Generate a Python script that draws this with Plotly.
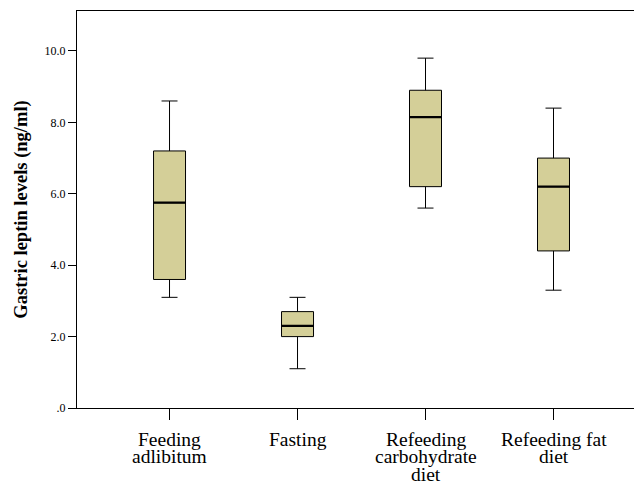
import plotly.graph_objects as go

# Gastric leptin levels (ng/ml) per feeding condition: five-number summaries
categories = ["Feeding<br>adlibitum", "Fasting", "Refeeding<br>carbohydrate<br>diet", "Refeeding fat<br>diet"]
lower_whisker = [3.1, 1.1, 5.6, 3.3]
q1 = [3.6, 2.0, 6.2, 4.4]
median = [5.75, 2.3, 8.15, 6.2]
q3 = [7.2, 2.7, 8.9, 7.0]
upper_whisker = [8.6, 3.1, 9.8, 8.4]

y_tick_values = [0, 2, 4, 6, 8, 10]
y_tick_labels = [".0", "2.0", "4.0", "6.0", "8.0", "10.0"]

positions = list(range(len(categories)))
box_width = 0.25
fill = "rgb(212,207,152)"
serif = "Liberation Serif, Times New Roman, serif"

fig = go.Figure()
fig.add_trace(go.Box(
    x=positions,
    q1=q1,
    median=median,
    q3=q3,
    lowerfence=lower_whisker,
    upperfence=upper_whisker,
    width=box_width,
    whiskerwidth=0.5,
    fillcolor=fill,
    line=dict(color="black", width=1),
    boxpoints=False,
    showlegend=False,
    hoverinfo="skip",
))

# heavier median bars drawn over each box
mx, my = [], []
for p, m in zip(positions, median):
    mx += [p - box_width / 2, p + box_width / 2, None]
    my += [m, m, None]
fig.add_trace(go.Scatter(
    x=mx, y=my, mode="lines",
    line=dict(color="black", width=2.2),
    showlegend=False, hoverinfo="skip",
))

# category labels, one annotation per line for a tight line pitch
label_first_offset = 31
label_line_pitch = 17.5
for p, label in zip(positions, categories):
    for k, line in enumerate(label.split("<br>")):
        fig.add_annotation(
            x=p, xref="x", y=0, yref="paper",
            text=line, showarrow=False,
            xanchor="center", yanchor="middle", borderpad=0,
            yshift=-(label_first_offset + k * label_line_pitch),
            font=dict(size=19.5, family=serif, color="black"),
        )

fig.update_layout(
    width=634, height=484,
    margin=dict(l=77, r=0, t=11, b=76),
    paper_bgcolor="white", plot_bgcolor="white",
    font=dict(family=serif, color="black"),
)
fig.update_xaxes(
    range=[-0.723, 3.629],
    tickvals=positions, ticktext=[""] * len(positions),
    ticks="outside", ticklen=11, tickcolor="black", tickwidth=1,
    showline=True, linecolor="black", linewidth=1, mirror=True,
    showgrid=False, zeroline=False, automargin=False,
)
fig.update_yaxes(
    range=[0, 11.12],
    tickvals=y_tick_values, ticktext=y_tick_labels,
    ticks="outside", ticklen=8, tickcolor="black", tickwidth=1,
    showline=True, linecolor="black", linewidth=1,
    showgrid=False, zeroline=False, automargin=False,
    tickfont=dict(size=12, family=serif),
    title=dict(text="<b>Gastric leptin levels (ng/ml)</b>",
               font=dict(size=18.5, family=serif), standoff=12),
)

fig.write_html("out.html")
